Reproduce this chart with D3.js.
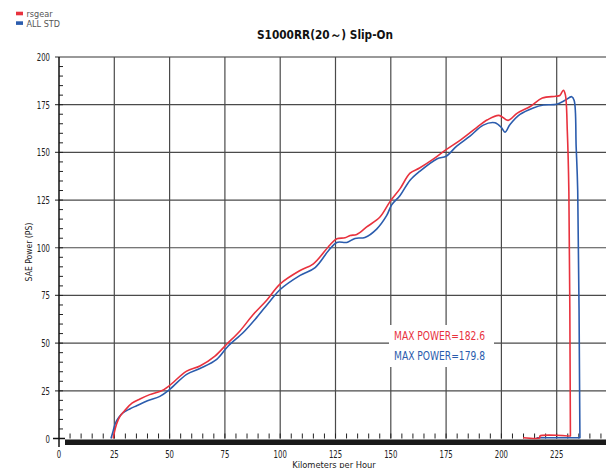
<!DOCTYPE html>
<html lang="en">
<head>
<meta charset="utf-8">
<script src="https://cdn.jsdelivr.net/npm/d3@7"></script>
<style>
  body { margin: 0; background: #fff; }
  text { font-family: "Liberation Sans Narrow", "DejaVu Sans Condensed", "Liberation Sans", sans-serif; }
</style>
<title>S1000RR(20~) Slip-On</title>
</head>
<body>
<script>
// values (km/h, PS)
var seriesNames = ["rsgear", "ALL STD"];
var seriesColors = ["#e8323e", "#2b5cad"];
var maxPower = ["182.6", "179.8"];

var speedRs = [24.5,25,26,27.5,30,33,36.6,41,46.4,49.9,57.7,63.7,70.5,75.8,81.8,87.8,93.9,100,109,115,122.6,125.6,129.3,131.6,134.6,139.1,145.1,149.7,154.2,158.7,163,169.5,175,181.6,187.6,193.7,198.9,203,207.2,213.2,218.5,224.5,226.4,228,228.9,229.8,230.5,231.2,231.2,217.4,217.4,209.8];
var powerRs = [0,3,7.5,11.5,15,18.5,20.7,23,25,27.7,35.3,38,43.2,49.4,56.4,65,72.5,81.1,88.1,91.6,101.6,104.7,105.2,106.4,107,110.9,116.1,124.3,131,139.1,141.8,146.7,151.4,156.6,161.9,167.1,169.4,166.8,170.6,174.2,178.5,179.4,179.8,182.6,180.3,161,129.6,1.3,1.3,1.3,0.4,0.4];

var speedStd = [23.5,24.5,25.5,27,29,32,35.1,40,45.6,49.9,57.7,63.7,71.3,76.5,83.3,89.4,95.4,100,109,115.8,121.8,125.6,130.1,133.8,138.3,143.6,148.1,150.4,154.2,158.7,163,171,175,179.8,185.8,191.8,197.1,200.1,201.6,203.9,208.4,214.4,219,225,228.8,231.8,232.9,233.8,234.5,235.5,235.5,215.9];
var powerStd = [0,4,8,11,13.5,15.5,17.2,19.8,22.1,25.6,33.6,36.7,41.5,48.5,55.6,63.5,72,78.1,85.5,89.6,98.4,102.8,102.8,104.9,105.4,109.8,116.8,122.5,127.4,135.4,140,146.7,148,153.3,158.5,164.3,165.5,162.9,160.6,164.6,169.9,173.3,174.8,175.2,177.3,179.2,177.2,152.8,130,0.4,0.4,0.4];

var xTicks = [0,25,50,75,100,125,150,175,200,225,250];
var yTicks = [0,25,50,75,100,125,150,175,200];

var w = 606, h = 468;
var svg = d3.select("body").append("svg").attr("width", w).attr("height", h);

var x = d3.scaleLinear().domain([0, 250]).range([59, 612]);
var y = d3.scaleLinear().domain([0, 200]).range([438.5, 57]);

// squeeze narrow text to a fixed width per character
function narrow(sel, perChar) {
  sel.attr("lengthAdjust", "spacingAndGlyphs")
     .attr("textLength", function() { return this.textContent.length * perChar; });
}

// grid
svg.append("g").selectAll("line").data(yTicks.slice(1)).enter().append("line")
  .attr("x1", 55).attr("x2", w)
  .attr("y1", function(d){ return y(d); }).attr("y2", function(d){ return y(d); })
  .attr("stroke", function(d){ return d == 200 ? "#999" : "#4a4a4a"; })
  .attr("stroke-width", function(d){ return d == 200 ? 2 : 1.2; });

svg.append("g").selectAll("line").data(xTicks.slice(1)).enter().append("line")
  .attr("x1", function(d){ return x(d); }).attr("x2", function(d){ return x(d); })
  .attr("y1", y(200)).attr("y2", y(0))
  .attr("stroke", "#4a4a4a").attr("stroke-width", 1.2);

// minor ticks
svg.append("g").selectAll("line").data(d3.range(5, 250, 5)).enter().append("line")
  .attr("x1", function(d){ return x(d); }).attr("x2", function(d){ return x(d); })
  .attr("y1", y(0) - 5).attr("y2", y(0))
  .attr("stroke", "#222").attr("stroke-width", 1);
svg.append("g").selectAll("line").data(d3.range(5, 200, 5)).enter().append("line")
  .attr("x1", 59).attr("x2", 63)
  .attr("y1", function(d){ return y(d); }).attr("y2", function(d){ return y(d); })
  .attr("stroke", "#222").attr("stroke-width", 1);

// axes
svg.append("line").attr("x1", 59).attr("x2", 59).attr("y1", y(200)).attr("y2", 447)
  .attr("stroke", "#111").attr("stroke-width", 1.5);
svg.append("line").attr("x1", 53).attr("x2", 65).attr("y1", y(0)).attr("y2", y(0))
  .attr("stroke", "#111").attr("stroke-width", 1.5);
svg.append("rect").attr("x", 65).attr("y", 439.5).attr("width", w - 65).attr("height", 5.5)
  .attr("fill", "#1a1a1a");

svg.append("g").selectAll("text").data(yTicks).enter().append("text")
  .attr("x", 50).attr("y", function(d){ return y(d) + 4; })
  .attr("text-anchor", "end").attr("font-size", 11).attr("fill", "#222")
  .text(function(d){ return d; }).call(narrow, 4.4);

svg.append("g").selectAll("text").data(xTicks.slice(0, 10)).enter().append("text")
  .attr("x", function(d){ return x(d); }).attr("y", 458)
  .attr("text-anchor", "middle").attr("font-size", 10.5).attr("fill", "#222")
  .text(function(d){ return d; }).call(narrow, 4.4);

svg.append("text").attr("x", 334).attr("y", 468).attr("text-anchor", "middle")
  .attr("font-size", 9).attr("fill", "#222").text("Kilometers per Hour").call(narrow, 4.4);

svg.append("text").attr("transform", "translate(32,252) rotate(-90)")
  .attr("text-anchor", "middle").attr("font-size", 9).attr("fill", "#222")
  .text("SAE Power (PS)").call(narrow, 4.2);

// title
svg.append("text").attr("x", 325).attr("y", 38.5).attr("text-anchor", "middle")
  .attr("font-size", 12).attr("font-weight", "bold").attr("fill", "#111")
  .text("S1000RR(20～) Slip-On").call(narrow, 6.8);

// legend
var leg = svg.append("g");
seriesNames.forEach(function(n, i) {
  leg.append("rect").attr("x", 16).attr("y", 11.7 + i * 9.6).attr("width", 7).attr("height", 3.6)
    .attr("fill", seriesColors[i]);
  leg.append("text").attr("x", 26.5).attr("y", 17 + i * 9.8)
    .attr("font-family", "Liberation Sans, Arial, sans-serif")
    .attr("font-size", 9).attr("fill", "#555").text(n);
});

// max power note
svg.append("rect").attr("x", 389).attr("y", 325).attr("width", 105).attr("height", 42).attr("fill", "#fff");
maxPower.forEach(function(v, i) {
  svg.append("text").attr("x", 394).attr("y", 339.5 + i * 20)
    .attr("font-size", 12).attr("fill", seriesColors[i])
    .text("MAX POWER=" + v).call(narrow, 6.07);
});

// curves
var line = d3.line().curve(d3.curveCatmullRom.alpha(0.5))
  .x(function(d){ return x(d[0]); }).y(function(d){ return y(d[1]); });
var rs = d3.zip(speedRs, powerRs);
var std = d3.zip(speedStd, powerStd);
svg.append("path").datum(std).attr("d", line).attr("fill", "none")
  .attr("stroke", seriesColors[1]).attr("stroke-width", 1.6).attr("stroke-linejoin", "round");
svg.append("path").datum(rs).attr("d", line).attr("fill", "none")
  .attr("stroke", seriesColors[0]).attr("stroke-width", 1.6).attr("stroke-linejoin", "round");
</script>
</body>
</html>
